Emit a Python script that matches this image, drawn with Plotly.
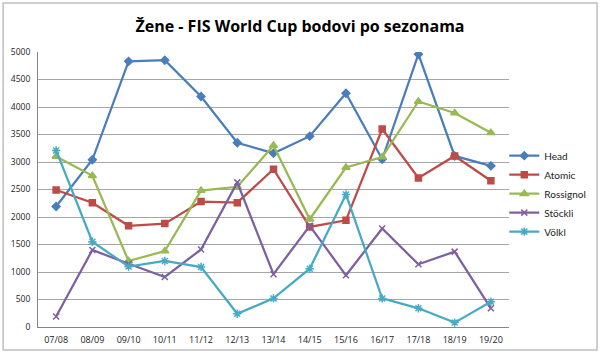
import plotly.graph_objects as go

seasons = ["07/08", "08/09", "09/10", "10/11", "11/12", "12/13", "13/14",
           "14/15", "15/16", "16/17", "17/18", "18/19", "19/20"]
head = [2190, 3040, 4830, 4850, 4190, 3350, 3160, 3470, 4250, 3050, 4960, 3110, 2930]
atomic = [2490, 2260, 1840, 1880, 2280, 2260, 2870, 1820, 1940, 3600, 2710, 3110, 2660]
rossignol = [3100, 2750, 1200, 1380, 2480, 2550, 3300, 1960, 2900, 3090, 4100, 3890, 3530]
stockli = [190, 1400, 1150, 910, 1410, 2630, 960, 1840, 940, 1790, 1140, 1370, 340]
volkl = [3210, 1550, 1100, 1200, 1090, 240, 520, 1060, 2410, 520, 340, 80, 460]

series = [
    ("Head", head, "#4A7EBB", "diamond", 6),
    ("Atomic", atomic, "#BE4B48", "square", 6),
    ("Rossignol", rossignol, "#98B954", "triangle-up", 7),
    ("Stöckli", stockli, "#7D60A0", "x-thin-open", 6),
    ("Völkl", volkl, "#46AAC5", "asterisk-open", 7),
]

fig = go.Figure()
for name, vals, col, sym, sz in series:
    fig.add_trace(go.Scatter(
        x=seasons, y=vals, name=name, mode="lines+markers",
        line=dict(color=col, width=2.25),
        marker=dict(symbol=sym, size=sz, color=col,
                    line=dict(color=col, width=1.5)),
    ))

fig.update_layout(
    width=600, height=356,
    paper_bgcolor="white", plot_bgcolor="white",
    margin=dict(l=38, r=91, t=52, b=29, autoexpand=False),
    title=dict(text="<b>Žene - FIS World Cup bodovi po sezonama</b>",
               x=0.5, xanchor="center", y=0.927, yanchor="middle",
               font=dict(family="Open Sans", size=16, color="black")),
    font=dict(family="Open Sans", size=9, color="#222"),
    showlegend=True,
    legend=dict(x=0.99, xanchor="left", y=0.485, yanchor="middle",
                font=dict(family="Lato", size=10, color="#222"), tracegroupgap=0,
                itemwidth=30, bgcolor="rgba(0,0,0,0)"),
    xaxis=dict(type="category", range=[-0.5, 12.5], showgrid=False,
               showline=True, linecolor="#868686", linewidth=1,
               ticks="", tickfont=dict(size=9), zeroline=False,
               automargin=False, ticklabelstandoff=4),
    yaxis=dict(range=[0, 5000], dtick=500, showgrid=True,
               gridcolor="#A6A6A6", gridwidth=1, showline=True,
               linecolor="#868686", ticks="", tickfont=dict(size=8.5),
               zeroline=False, automargin=False, ticklabelstandoff=5),
    shapes=[dict(type="rect", xref="paper", yref="paper",
                 x0=-0.074, x1=1.187, y0=-0.084, y1=1.178,
                 line=dict(color="#BFBFBF", width=1.5), layer="below")],
)

fig.write_html("out.html", config={"displayModeBar": False},
               post_script="document.body.style.margin='0';document.body.style.padding='0';")
